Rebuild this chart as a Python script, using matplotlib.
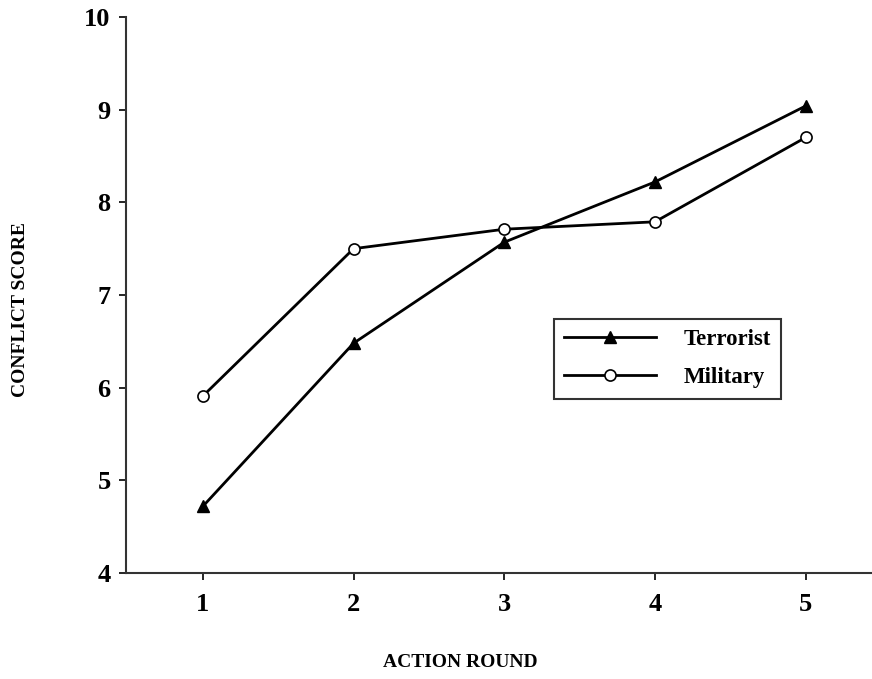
import numpy as np
import matplotlib.pyplot as plt

rounds = [1, 2, 3, 4, 5]
terrorist = [4.72, 6.48, 7.57, 8.22, 9.04]
military = [5.91, 7.50, 7.71, 7.79, 8.70]

plt.rcParams['font.family'] = 'Liberation Serif'
plt.rcParams['font.weight'] = 'bold'

fig = plt.figure(figsize=(8.72, 6.79), dpi=100)
ax = fig.add_axes([0.1445, 0.156, 0.8555, 0.819])

ax.plot(rounds, terrorist, color='black', lw=2, marker='^', ms=8,
        mfc='black', mec='black', label='Terrorist')
ax.plot(rounds, military, color='black', lw=2, marker='o', ms=8,
        mfc='white', mec='black', mew=1.2, label='Military')

ax.set_xlim(0.49, 5.44)
ax.set_ylim(4, 10)
ax.set_xticks(rounds)
ax.set_yticks(range(4, 11))
ax.spines['top'].set_visible(False)
ax.spines['right'].set_visible(False)
for s in ['left', 'bottom']:
    ax.spines[s].set_linewidth(1.5)
    ax.spines[s].set_color('#333333')
ax.tick_params(direction='out', length=5, width=1.2, labelsize=19, pad=6)
ax.tick_params(axis='x', pad=9)
for lab in ax.get_xticklabels() + ax.get_yticklabels():
    lab.set_fontweight('bold')

ax.set_ylabel('CONFLICT SCORE', fontsize=14, fontweight='bold')
ax.set_xlabel('ACTION ROUND', fontsize=14, fontweight='bold')
ax.yaxis.set_label_coords(-0.142, 0.473)
ax.xaxis.set_label_coords(0.448, -0.16)
ax.xaxis.label.set_va('center')
ax.yaxis.label.set_va('center')

leg = ax.legend(loc='upper left', bbox_to_anchor=(0.5735, 0.4575), frameon=True,
                fancybox=False, edgecolor='black', fontsize=16.5, handlelength=4.0,
                borderpad=0.45, labelspacing=0.75, handletextpad=1.2, borderaxespad=0)
leg.get_frame().set_linewidth(1.5)
for t in leg.get_texts():
    t.set_fontweight('bold')

fig.savefig('out.png', dpi=100)
